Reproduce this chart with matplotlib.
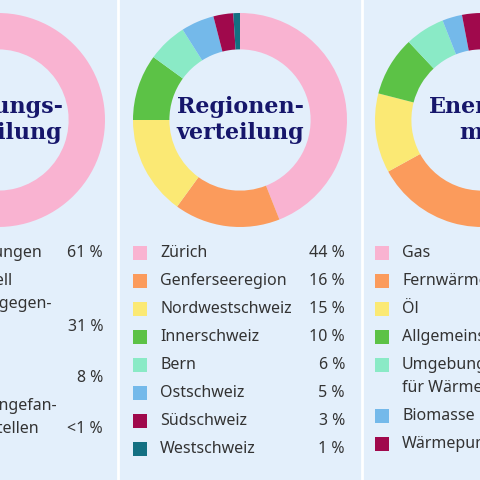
import matplotlib.pyplot as plt

# left panel (cut off)
left_title = "Nutzungs-\nverteilung"
left_labels = ["Mietwohnungen", "Kommerziell\nWohnungsgegen-\nstände", "Land-\nwirtschaft",
               "Bisher unangefan-\ngene Baustellen"]
left_pcts = ["61 %", "31 %", "8 %", "<1 %"]
left_values = [61, 31, 7.6, 0.4]

# middle panel
mid_title = "Regionen-\nverteilung"
mid_labels = ["Zürich", "Genferseeregion", "Nordwestschweiz", "Innerschweiz",
              "Bern", "Ostschweiz", "Südschweiz", "Westschweiz"]
mid_pcts = ["44 %", "16 %", "15 %", "10 %", "6 %", "5 %", "3 %", "1 %"]
mid_values = [44, 16, 15, 10, 6, 5, 3, 1]

# right panel (cut off)
right_title = "Energie-\nmix"
right_labels = ["Gas", "Fernwärme", "Öl", "Allgemeinstrom",
                "Umgebungswärme\nfür Wärmepumpen", "Biomasse", "Wärmepumpen"]
right_pcts = ["42 %", "25 %", "12 %", "9 %", "6 %", "3 %", "3 %"]
right_values = [42, 25, 12, 9, 6, 3, 3]

colors = ["#f9b3d1", "#fb9b5c", "#fbe974", "#5cc246", "#8aeac6",
          "#74b9ea", "#a0094c", "#137082"]
BG = "#e3effb"
NAVY = "#16166b"
W = 480
plt.rcParams['font.family'] = ['Noto Sans', 'DejaVu Sans']

fig = plt.figure(figsize=(4.8, 4.8), dpi=100)
fig.patch.set_facecolor(BG)
base = fig.add_axes([0, 0, 1, 1])
base.set_xlim(0, W)
base.set_ylim(W, 0)
base.axis("off")
for x in (118, 362):
    base.axvline(x, color="white", lw=2)


def panel(off, title, labels, pcts, values):
    cx, cy, r = 240 + off, 120, 107
    ax = fig.add_axes([(cx - r) / W, 1 - (cy + r) / W, 2 * r / W, 2 * r / W])
    ax.pie(values, colors=colors[:len(values)], startangle=90, counterclock=False,
           radius=1, wedgeprops=dict(width=0.34, linewidth=0))
    ax.set_xlim(-1, 1)
    ax.set_ylim(-1, 1)
    ax.set_aspect("equal")
    ax.text(0, 0, title, ha="center", va="center", fontsize=16, fontweight="bold",
            family="DejaVu Serif", color=NAVY, linespacing=1.25)
    y = 253
    for i, (lab, p) in enumerate(zip(labels, pcts)):
        lines = lab.split("\n")
        base.add_patch(plt.Rectangle((133 + off, y - 7), 14, 14, color=colors[i], lw=0))
        for j, ln in enumerate(lines):
            base.text(160 + off, y + 23 * j, ln, va="center", fontsize=11.5, color="#333333")
        base.text(345 + off, y + 23 * (len(lines) - 1), p, va="center", ha="right",
                  fontsize=11.5, color="#333333")
        y += 23 * (len(lines) - 1) + 28


panel(-242, left_title, left_labels, left_pcts, left_values)
panel(0, mid_title, mid_labels, mid_pcts, mid_values)
panel(242, right_title, right_labels, right_pcts, right_values)

fig.savefig("out.png", dpi=100, facecolor=BG)
